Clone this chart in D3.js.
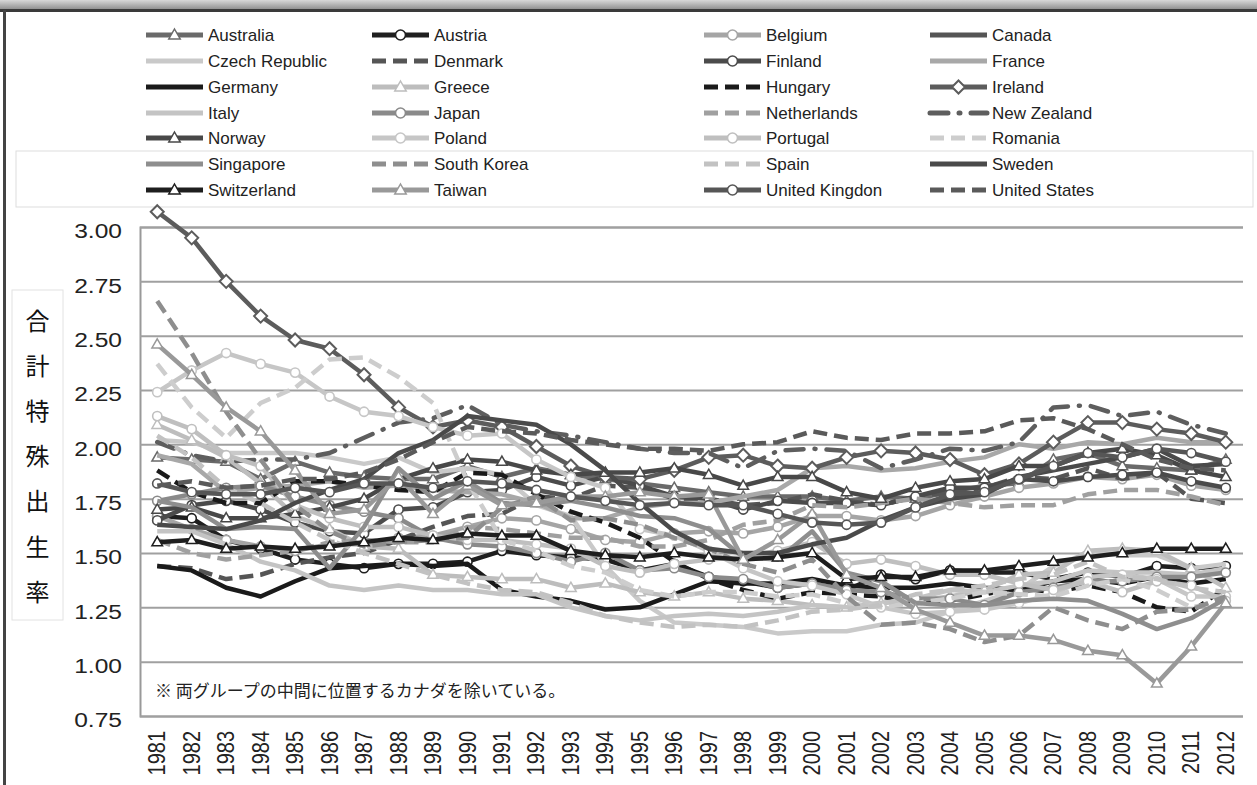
<!DOCTYPE html>
<html><head><meta charset="utf-8">
<script src="https://cdn.jsdelivr.net/npm/d3@7"></script>
<style>body{margin:0;background:#fff}svg{display:block}</style>
</head><body>
<svg id="c" width="1257" height="785"></svg>
<script>
const years = [1981,1982,1983,1984,1985,1986,1987,1988,1989,1990,1991,1992,1993,1994,1995,1996,1997,1998,1999,2000,2001,2002,2003,2004,2005,2006,2007,2008,2009,2010,2011,2012];
const yTicks = [0.75,1.00,1.25,1.50,1.75,2.00,2.25,2.50,2.75,3.00];

const Australia   = [1.94,1.93,1.92,1.84,1.92,1.87,1.85,1.84,1.84,1.90,1.85,1.89,1.86,1.84,1.82,1.80,1.78,1.76,1.76,1.76,1.74,1.76,1.75,1.78,1.81,1.82,1.93,1.96,1.90,1.89,1.88,1.93];
const Austria     = [1.67,1.66,1.56,1.52,1.47,1.45,1.43,1.45,1.45,1.46,1.51,1.49,1.48,1.47,1.42,1.45,1.39,1.37,1.34,1.36,1.33,1.40,1.38,1.42,1.41,1.41,1.38,1.41,1.39,1.44,1.43,1.44];
const Belgium     = [1.67,1.61,1.56,1.53,1.51,1.54,1.54,1.57,1.58,1.62,1.66,1.65,1.61,1.56,1.55,1.59,1.60,1.59,1.62,1.67,1.67,1.65,1.67,1.72,1.76,1.80,1.82,1.85,1.84,1.86,1.81,1.79];
const Canada      = null; // excluded from the plot (see note)
const Czech       = [2.02,2.01,1.96,1.96,1.96,1.94,1.91,1.94,1.87,1.89,1.86,1.72,1.67,1.44,1.28,1.18,1.17,1.16,1.13,1.14,1.14,1.17,1.18,1.23,1.28,1.33,1.44,1.50,1.49,1.49,1.43,1.45];
const Denmark     = [1.44,1.43,1.38,1.40,1.45,1.48,1.50,1.56,1.62,1.67,1.68,1.76,1.75,1.81,1.80,1.75,1.75,1.72,1.73,1.77,1.74,1.72,1.76,1.78,1.80,1.85,1.84,1.89,1.84,1.87,1.75,1.73];
const Finland     = [1.65,1.72,1.74,1.70,1.64,1.60,1.59,1.70,1.71,1.78,1.79,1.85,1.81,1.85,1.81,1.76,1.75,1.70,1.74,1.73,1.73,1.72,1.76,1.80,1.80,1.84,1.83,1.85,1.86,1.87,1.83,1.80];
const France      = [1.95,1.91,1.78,1.80,1.81,1.83,1.80,1.81,1.79,1.78,1.77,1.73,1.66,1.66,1.71,1.73,1.73,1.76,1.79,1.89,1.90,1.88,1.89,1.92,1.94,2.00,1.98,2.01,2.00,2.03,2.01,2.01];
const Germany     = [1.44,1.42,1.34,1.30,1.37,1.43,1.44,1.45,1.44,1.45,1.33,1.30,1.28,1.24,1.25,1.31,1.37,1.36,1.36,1.38,1.35,1.34,1.34,1.36,1.34,1.33,1.37,1.38,1.36,1.39,1.36,1.38];
const Greece      = [2.09,2.02,1.94,1.82,1.67,1.61,1.53,1.52,1.40,1.39,1.38,1.38,1.34,1.36,1.32,1.30,1.32,1.29,1.28,1.26,1.25,1.27,1.28,1.30,1.33,1.40,1.41,1.51,1.52,1.51,1.43,1.34];
const Hungary     = [1.88,1.78,1.73,1.73,1.83,1.83,1.81,1.79,1.78,1.87,1.86,1.77,1.69,1.64,1.57,1.46,1.38,1.33,1.29,1.32,1.31,1.30,1.27,1.28,1.31,1.34,1.32,1.35,1.32,1.25,1.23,1.34];
const Ireland     = [3.07,2.95,2.75,2.59,2.48,2.44,2.32,2.17,2.08,2.11,2.08,1.99,1.90,1.85,1.84,1.88,1.94,1.95,1.90,1.89,1.94,1.97,1.96,1.93,1.86,1.91,2.01,2.10,2.10,2.07,2.05,2.01];
const Italy       = [1.60,1.60,1.54,1.46,1.42,1.35,1.33,1.35,1.33,1.33,1.31,1.31,1.25,1.21,1.19,1.21,1.22,1.21,1.23,1.26,1.25,1.27,1.29,1.33,1.32,1.35,1.37,1.42,1.41,1.41,1.40,1.43];
const Japan       = [1.74,1.77,1.80,1.81,1.76,1.72,1.69,1.66,1.57,1.54,1.53,1.50,1.46,1.50,1.42,1.43,1.39,1.38,1.34,1.36,1.33,1.32,1.29,1.29,1.26,1.32,1.34,1.37,1.37,1.39,1.39,1.41];
const Netherlands = [1.56,1.50,1.47,1.49,1.51,1.55,1.56,1.55,1.55,1.62,1.61,1.59,1.57,1.57,1.53,1.53,1.56,1.63,1.65,1.72,1.71,1.73,1.75,1.73,1.71,1.72,1.72,1.77,1.79,1.79,1.76,1.72];
const NewZealand  = [2.01,1.95,1.92,1.93,1.93,1.96,2.03,2.10,2.12,2.18,2.09,2.06,2.04,2.01,1.98,1.96,1.96,1.89,1.97,1.98,1.97,1.89,1.93,1.98,1.97,2.01,2.17,2.18,2.13,2.15,2.09,2.05];
const Norway      = [1.70,1.71,1.66,1.66,1.68,1.71,1.75,1.84,1.89,1.93,1.92,1.88,1.86,1.87,1.87,1.89,1.86,1.81,1.85,1.85,1.78,1.75,1.80,1.83,1.84,1.90,1.90,1.96,1.98,1.95,1.88,1.85];
const Poland      = [2.24,2.34,2.42,2.37,2.33,2.22,2.15,2.13,2.08,2.04,2.05,1.93,1.85,1.80,1.61,1.58,1.51,1.43,1.37,1.35,1.31,1.25,1.22,1.23,1.24,1.27,1.31,1.39,1.40,1.38,1.30,1.30];
const Portugal    = [2.13,2.07,1.95,1.90,1.72,1.66,1.62,1.62,1.58,1.56,1.56,1.54,1.52,1.44,1.41,1.45,1.47,1.48,1.51,1.55,1.45,1.47,1.44,1.40,1.40,1.36,1.33,1.37,1.32,1.37,1.35,1.28];
const Romania     = [2.37,2.17,2.03,2.19,2.26,2.39,2.40,2.31,2.19,1.83,1.56,1.51,1.44,1.41,1.33,1.30,1.32,1.32,1.30,1.31,1.27,1.25,1.27,1.29,1.32,1.31,1.30,1.35,1.38,1.33,1.25,1.28];
const Singapore   = [1.74,1.71,1.61,1.62,1.61,1.43,1.62,1.89,1.75,1.83,1.73,1.72,1.74,1.71,1.67,1.66,1.61,1.48,1.47,1.60,1.41,1.37,1.27,1.26,1.26,1.28,1.29,1.28,1.22,1.15,1.20,1.29];
const SouthKorea  = [2.66,2.42,2.15,1.93,1.72,1.60,1.53,1.55,1.56,1.57,1.71,1.76,1.65,1.66,1.63,1.57,1.52,1.45,1.41,1.47,1.30,1.17,1.18,1.15,1.09,1.12,1.25,1.19,1.15,1.23,1.24,1.30];
const Spain       = [2.04,1.94,1.80,1.73,1.64,1.56,1.50,1.45,1.40,1.36,1.33,1.32,1.27,1.21,1.18,1.16,1.17,1.16,1.19,1.23,1.24,1.26,1.31,1.33,1.35,1.38,1.40,1.46,1.39,1.38,1.34,1.32];
const Sweden      = [1.63,1.62,1.61,1.65,1.73,1.79,1.84,1.96,2.02,2.13,2.11,2.09,2.00,1.88,1.73,1.60,1.52,1.50,1.50,1.54,1.57,1.65,1.71,1.75,1.77,1.85,1.88,1.91,1.94,1.98,1.90,1.91];
const Switzerland = [1.55,1.56,1.52,1.53,1.52,1.53,1.55,1.57,1.56,1.59,1.58,1.58,1.51,1.49,1.48,1.50,1.48,1.47,1.48,1.50,1.38,1.39,1.39,1.42,1.42,1.44,1.46,1.48,1.50,1.52,1.52,1.52];
const Taiwan      = [2.46,2.32,2.17,2.06,1.88,1.68,1.70,1.85,1.68,1.81,1.72,1.73,1.76,1.76,1.78,1.76,1.77,1.47,1.56,1.68,1.40,1.34,1.24,1.18,1.12,1.12,1.10,1.05,1.03,0.90,1.07,1.27];
const UK          = [1.82,1.78,1.77,1.77,1.80,1.78,1.82,1.82,1.80,1.83,1.82,1.79,1.76,1.74,1.72,1.73,1.72,1.72,1.68,1.64,1.63,1.64,1.71,1.77,1.78,1.84,1.90,1.96,1.94,1.98,1.96,1.92];
const US          = [1.81,1.83,1.80,1.81,1.84,1.84,1.87,1.93,2.01,2.08,2.06,2.05,2.02,2.00,1.98,1.98,1.97,2.00,2.01,2.06,2.03,2.02,2.05,2.05,2.06,2.11,2.12,2.07,2.00,1.93,1.89,1.88];

const D = "14,7", DD = "18,11,1,11";
const series = [
  {name:"Australia", values:Australia, color:"#6a6a6a", marker:"tri"},
  {name:"Austria", values:Austria, color:"#1f1f1f", marker:"circ"},
  {name:"Belgium", values:Belgium, color:"#a5a5a5", marker:"circ"},
  {name:"Canada", values:Canada, color:"#555555"},
  {name:"Czech Republic", values:Czech, color:"#c9c9c9"},
  {name:"Denmark", values:Denmark, color:"#555555", dash:D},
  {name:"Finland", values:Finland, color:"#4b4b4b", marker:"circ"},
  {name:"France", values:France, color:"#a8a8a8"},
  {name:"Germany", values:Germany, color:"#1a1a1a"},
  {name:"Greece", values:Greece, color:"#bdbdbd", marker:"tri"},
  {name:"Hungary", values:Hungary, color:"#1a1a1a", dash:D},
  {name:"Ireland", values:Ireland, color:"#5c5c5c", marker:"dia"},
  {name:"Italy", values:Italy, color:"#c4c4c4"},
  {name:"Japan", values:Japan, color:"#8a8a8a", marker:"circ"},
  {name:"Netherlands", values:Netherlands, color:"#a0a0a0", dash:D},
  {name:"New Zealand", values:NewZealand, color:"#5e5e5e", dash:DD, round:true},
  {name:"Norway", values:Norway, color:"#484848", marker:"tri"},
  {name:"Poland", values:Poland, color:"#c6c6c6", marker:"circ"},
  {name:"Portugal", values:Portugal, color:"#bfbfbf", marker:"circ"},
  {name:"Romania", values:Romania, color:"#cdcdcd", dash:D},
  {name:"Singapore", values:Singapore, color:"#8e8e8e"},
  {name:"South Korea", values:SouthKorea, color:"#8e8e8e", dash:D},
  {name:"Spain", values:Spain, color:"#c2c2c2", dash:D},
  {name:"Sweden", values:Sweden, color:"#4a4a4a"},
  {name:"Switzerland", values:Switzerland, color:"#1e1e1e", marker:"tri"},
  {name:"Taiwan", values:Taiwan, color:"#999999", marker:"tri"},
  {name:"United Kingdon", values:UK, color:"#565656", marker:"circ"},
  {name:"United States", values:US, color:"#5a5a5a", dash:D}
];

const svg = d3.select("#c");
const L = 140, R = 1243;
const x = d3.scaleBand().domain(years).range([L, R]);
const xc = d => x(d) + x.bandwidth()/2;
const y = d3.scaleLinear().domain([0.75, 3.00]).range([716, 227]);

// frame decorations
const grad = svg.append("defs").append("linearGradient").attr("id","tg").attr("x1",0).attr("x2",0).attr("y1",0).attr("y2",1);
grad.append("stop").attr("offset","0").attr("stop-color","#d8d8d8");
grad.append("stop").attr("offset","1").attr("stop-color","#8a8a8a");
svg.append("rect").attr("x",0).attr("y",0).attr("width",1257).attr("height",10).attr("fill","url(#tg)");
svg.append("rect").attr("x",0).attr("y",9).attr("width",1257).attr("height",3).attr("fill","#3a3a3a");
svg.append("rect").attr("x",3).attr("y",10).attr("width",3).attr("height",775).attr("fill","#444");
svg.append("rect").attr("x",16).attr("y",151).attr("width",1237).attr("height",56).attr("fill","none").attr("stroke","#dddddd");

// grid + axis
const ax = svg.append("g").attr("transform",`translate(${L},0)`)
  .call(d3.axisLeft(y).tickValues(yTicks).tickSize(-(R-L)).tickFormat(""));
ax.select(".domain").attr("stroke","#999").attr("stroke-width",2);
ax.selectAll(".tick line").attr("stroke","#a0a0a0").attr("stroke-width",2);
yTicks.forEach(v => {
  svg.append("text").attr("transform",`translate(122,${y(v)+4}) scale(1.17,1)`)
    .attr("text-anchor","end").attr("dominant-baseline","central")
    .style("font-family","Liberation Sans, Arial, sans-serif").style("font-size","21px").attr("fill","#222")
    .text(d3.format(".2f")(v));
});
years.forEach(yr => {
  svg.append("text").attr("transform",`translate(${xc(yr)},731) scale(1.17,1) rotate(-90)`)
    .attr("text-anchor","end").attr("dominant-baseline","central")
    .style("font-family","Liberation Sans, Arial, sans-serif").style("font-size","20px").attr("fill","#222")
    .text(yr);
});

function marker(g, type, cx, cy, color, big){
  if(type==="circ") g.append("circle").attr("cx",cx).attr("cy",cy).attr("r",big?5:4.6).attr("fill","#fff").attr("stroke",color).attr("stroke-width",1.6);
  else if(type==="tri"){ const s=big?6:5.6; g.append("path").attr("d",`M${cx},${cy-s}L${cx+s*0.95},${cy+s*0.65}L${cx-s*0.95},${cy+s*0.65}Z`).attr("fill","#fff").attr("stroke",color).attr("stroke-width",1.5);}
  else if(type==="dia"){ const s=6.5; g.append("path").attr("d",`M${cx},${cy-s}L${cx+s},${cy}L${cx},${cy+s}L${cx-s},${cy}Z`).attr("fill","#fff").attr("stroke",color).attr("stroke-width",2);}
}

// lines
const line = d3.line().x((d,i)=>xc(years[i])).y(d=>y(d));
const pg = svg.append("g");
series.filter(s=>s.values).forEach(s => {
  pg.append("path").datum(s.values).attr("d",line).attr("fill","none")
    .attr("stroke",s.color).attr("stroke-width",4.5).attr("stroke-linejoin","round")
    .attr("stroke-linecap", s.round ? "round" : "butt")
    .attr("stroke-dasharray", s.dash || null);
  if(s.marker) s.values.forEach((v,i)=>marker(pg, s.marker, xc(years[i]), y(v), s.color));
});

// note
svg.append("text").attr("x",155).attr("y",689).attr("dominant-baseline","central")
  .style("font-family","Noto Sans CJK JP, sans-serif").style("font-size","17px").attr("fill","#222")
  .text("※ 両グループの中間に位置するカナダを除いている。");

// y title box
svg.append("rect").attr("x",12).attr("y",290).attr("width",51).attr("height",330).attr("fill","#fff").attr("stroke","#e2e2e2");
const titleChars = ["合","計","特","殊","出","生","率"];
titleChars.forEach((ch,i)=>{
  svg.append("text").attr("x",37.5).attr("y",319+i*45.2).attr("text-anchor","middle").attr("dominant-baseline","central")
    .style("font-family","Noto Sans CJK JP, sans-serif").style("font-size","24px").attr("fill","#111").text(ch);
});

// legend
const colX = [146, 372, 704, 930], rowY = [35,61,87,113,138,164,190];
const lg = svg.append("g");
series.forEach((s,i)=>{
  const cx0 = colX[i%4], cy0 = rowY[Math.floor(i/4)];
  lg.append("line").attr("x1",cx0).attr("x2",cx0+57).attr("y1",cy0).attr("y2",cy0)
    .attr("stroke",s.color).attr("stroke-width",5)
    .attr("stroke-linecap", s.round ? "round" : "butt")
    .attr("stroke-dasharray", s.dash || null);
  if(s.marker) marker(lg, s.marker, cx0+28.5, cy0, s.color, true);
  lg.append("text").attr("x",cx0+62).attr("y",cy0).attr("dominant-baseline","central")
    .style("font-family","Liberation Sans, Arial, sans-serif").style("font-size","17px").attr("fill","#222").text(s.name);
});
</script>
</body></html>
